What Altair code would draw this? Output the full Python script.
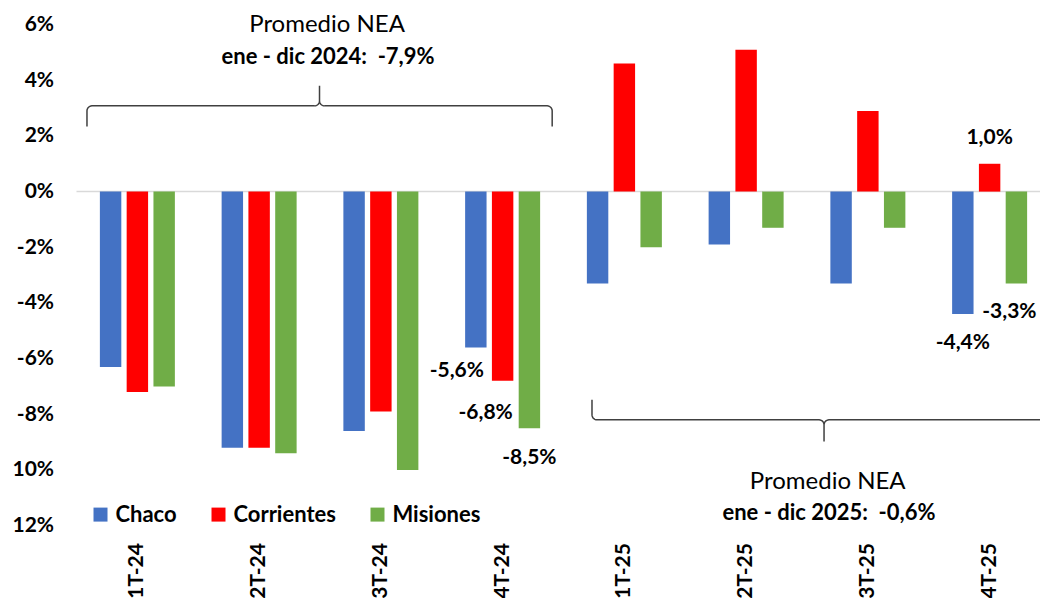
import altair as alt
import numpy as np
import pandas as pd

# ---------------- data ----------------
quarters = ["1T-24", "2T-24", "3T-24", "4T-24", "1T-25", "2T-25", "3T-25", "4T-25"]
provinces = ["Chaco", "Corrientes", "Misiones"]
chaco = [-6.3, -9.2, -8.6, -5.6, -3.3, -1.9, -3.3, -4.4]
corrientes = [-7.2, -9.2, -7.9, -6.8, 4.6, 5.1, 2.9, 1.0]
misiones = [-7.0, -9.4, -10.0, -8.5, -2.0, -1.3, -1.3, -3.3]
y_ticks = [6, 4, 2, 0, -2, -4, -6, -8, -10, -12]
note_titles = ["Promedio NEA", "Promedio NEA"]
note_values = ["ene - dic 2024:\u00a0 -7,9%", "ene - dic 2025:\u00a0 -0,6%"]
labelled = [("4T-24", "Chaco"), ("4T-24", "Corrientes"), ("4T-24", "Misiones"),
            ("4T-25", "Chaco"), ("4T-25", "Corrientes"), ("4T-25", "Misiones")]

# ---------------- styling / layout ----------------
colors = ["#4472C4", "#FF0000", "#70AD47"]
FONT = "Lato"
PW, PH = 974, 501          # scale ranges (plot area)
VIEW_W = 963.5             # visible view width (page clips the right edge)
label_offsets = {           # (dx, dy) of each data label relative to bar end
    ("4T-24", "Chaco"): (-19, 24),
    ("4T-24", "Corrientes"): (-17, 32),
    ("4T-24", "Misiones"): (0, 30),
    ("4T-25", "Chaco"): (0, 29),
    ("4T-25", "Corrientes"): (0, -26),
    ("4T-25", "Misiones"): (-7, 29),
}

rows = []
for prov, vals in zip(provinces, [chaco, corrientes, misiones]):
    for q, v in zip(quarters, vals):
        rows.append({"quarter": q, "province": prov, "value": v,
                     "label": f"{v:.1f}".replace(".", ",") + "%"})
bars_df = pd.DataFrame(rows)

x_band = alt.X(
    "quarter:N", sort=quarters,
    scale=alt.Scale(domain=quarters, range=[0, PW], paddingInner=0.384, paddingOuter=0.192),
    axis=alt.Axis(title=None, labelAngle=-90, labelFont=FONT, labelFontSize=21,
                  labelFontWeight="bold", labelColor="black", labelPadding=17,
                  ticks=False, domain=False, grid=False),
)
x_off = alt.XOffset("province:N", sort=provinces,
                    scale=alt.Scale(domain=provinces, paddingInner=0.2, paddingOuter=0))
y_enc = alt.Y(
    "value:Q",
    scale=alt.Scale(domain=[-12, 6], nice=False, zero=False),
    axis=alt.Axis(title=None, values=y_ticks,
                  labelExpr="(datum.value <= -10 ? -datum.value : datum.value) + '%'",
                  labelFont=FONT, labelFontSize=21, labelFontWeight="bold",
                  labelColor="black", labelPadding=23, ticks=False, domain=False, grid=False),
)
x_pos = alt.X("pos:Q", scale=alt.Scale(domain=[0, 8], range=[0, PW], nice=False, zero=False),
              axis=None)

# zero baseline
zero_df = pd.DataFrame({"pos": [0.0], "pos2": [8.3], "value": [0.0]})
zero_layer = alt.Chart(zero_df).mark_rule(color="#d9d9d9", strokeWidth=1.5).encode(
    x=x_pos, x2="pos2:Q", y=y_enc)

# bars
bars = alt.Chart(bars_df).mark_bar().encode(
    x=x_band, xOffset=x_off, y=y_enc,
    color=alt.Color("province:N", sort=provinces,
                    scale=alt.Scale(domain=provinces, range=colors),
                    legend=alt.Legend(title=None, orient="none", legendX=13, legendY=479,
                                      direction="horizontal", symbolType="square",
                                      symbolSize=196, symbolStrokeWidth=0,
                                      labelFont=FONT, labelFontSize=22, labelFontWeight="bold",
                                      labelColor="black", columnPadding=30, labelOffset=4,
                                      padding=0)),
)

label_layers = []
for q, p in labelled:
    dx, dy = label_offsets[(q, p)]
    sub = bars_df[(bars_df.quarter == q) & (bars_df.province == p)]
    label_layers.append(
        alt.Chart(sub).mark_text(font=FONT, fontSize=21, fontWeight="bold", color="black",
                                 dx=dx, dy=dy, baseline="middle", align="center")
        .encode(x=x_band, xOffset=x_off, y=y_enc, text="label:N")
    )
bars_group = alt.layer(bars, *label_layers)


# braces (annotation geometry, in data units)
def brace(name, x0, x1, xc, y_line, y_end, y_tip, rx=0.041, ry=0.18):
    s = 1.0 if y_tip > y_line else -1.0
    pts = [(x0, y_end)]
    for t in np.linspace(np.pi, np.pi / 2, 8):
        pts.append((x0 + rx + rx * np.cos(t), y_line - s * ry + s * ry * np.sin(t)))
    for t in np.linspace(-np.pi / 2, 0, 8):
        pts.append((xc - rx + rx * np.cos(t), y_line + s * ry + s * ry * np.sin(t)))
    pts.append((xc, y_tip))
    for t in np.linspace(np.pi, 1.5 * np.pi, 8):
        pts.append((xc + rx + rx * np.cos(t), y_line + s * ry + s * ry * np.sin(t)))
    for t in np.linspace(np.pi / 2, 0, 8):
        pts.append((x1 - rx + rx * np.cos(t), y_line - s * ry + s * ry * np.sin(t)))
    pts.append((x1, y_end))
    return [{"brace": name, "i": i, "pos": a, "value": b} for i, (a, b) in enumerate(pts)]


brace_df = pd.DataFrame(
    brace("b2024", 0.086, 3.907, 1.996, 3.08, 2.34, 3.80)
    + brace("b2025", 4.234, 8.046, 6.140, -8.20, -7.48, -8.98)
)
braces = alt.Chart(brace_df).mark_line(color="#404040", strokeWidth=1.5).encode(
    x=x_pos, y=y_enc, detail="brace:N", order="i:Q")

title_df = pd.DataFrame({"pos": [2.058, 6.17], "value": [5.99, -10.43], "txt": note_titles})
value_df = pd.DataFrame({"pos": [2.066, 6.18], "value": [4.84, -11.54], "txt": note_values})
titles = alt.Chart(title_df).mark_text(font=FONT, fontSize=24, color="black",
                                       baseline="middle", align="center").encode(
    x=x_pos, y=y_enc, text="txt:N")
values = alt.Chart(value_df).mark_text(font=FONT, fontSize=22, fontWeight="bold", color="black",
                                       baseline="middle", align="center").encode(
    x=x_pos, y=y_enc, text="txt:N")
annot_group = alt.layer(braces, titles, values)

chart = (
    alt.layer(zero_layer, bars_group, annot_group)
    .resolve_scale(x="independent")
    .properties(width=VIEW_W, height=PH,
                autosize=alt.AutoSizeParams(type="none"),
                padding={"left": 68.5, "top": 16.6, "right": 0, "bottom": 72})
    .configure_view(stroke=None)
)

chart.save("out.html", embed_options={"renderer": "svg", "actions": False})
